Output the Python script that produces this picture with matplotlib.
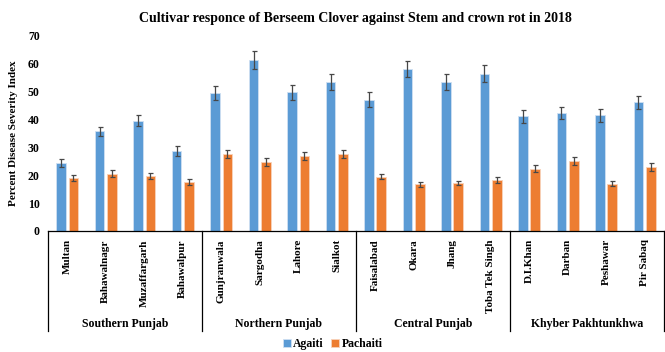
import numpy as np
import matplotlib
matplotlib.use("Agg")
import matplotlib.pyplot as plt
import matplotlib.transforms as mtransforms

plt.rcParams['font.family'] = ['Liberation Serif', 'DejaVu Serif']
plt.rcParams['font.weight'] = 'bold'

cities = ['Multan', 'Bahawalnagr', 'Muzaffargarh', 'Bahawalpur',
          'Gunjranwala', 'Sargodha', 'Lahore', 'Sialkot',
          'Faisalabad', 'Okara', 'Jhang', 'Toba Tek Singh',
          'D.I.Khan', 'Darban', 'Peshawar', 'Pir Sabaq']
regions = ['Southern Punjab', 'Northern Punjab', 'Central Punjab',
           'Khyber Pakhtunkhwa']
agaiti = [24.3, 35.7, 39.6, 28.7, 49.4, 61.4, 49.7, 53.5,
          47.1, 58.1, 53.5, 56.4, 41.1, 42.3, 41.5, 46.1]
agaiti_err = [1.4, 1.6, 2.1, 1.7, 2.5, 3.2, 2.6, 2.9,
              2.6, 3.0, 2.9, 3.0, 2.2, 2.2, 2.3, 2.5]
pachaiti = [19.0, 20.6, 19.7, 17.6, 27.6, 24.6, 27.0, 27.6,
            19.5, 16.7, 17.2, 18.2, 22.4, 25.2, 17.0, 23.0]
pachaiti_err = [1.0, 1.1, 1.0, 1.0, 1.4, 1.4, 1.5, 1.5,
                1.0, 0.8, 0.8, 1.0, 1.25, 1.4, 0.9, 1.4]

fig = plt.figure(figsize=(6.65, 3.52), dpi=100)
ax = fig.add_axes([0.0722, 0.344, 0.926, 0.554])

x = np.arange(len(cities))
w = 0.25
ekw = dict(ecolor='#474747', elinewidth=0.9, capsize=1.8, capthick=0.9)
ax.bar(x - 0.16, agaiti, w, yerr=agaiti_err, color='#5B9BD5',
       edgecolor='#cfe0f2', linewidth=0.6, label='Agaiti', error_kw=ekw)
ax.bar(x + 0.16, pachaiti, w, yerr=pachaiti_err, color='#ED7D31',
       edgecolor='#f8d3bb', linewidth=0.6, label='Pachaiti', error_kw=ekw)

ax.set_xlim(-0.5, len(cities) - 0.5)
ax.set_ylim(0, 70)
ax.set_yticks(range(0, 71, 10))
ax.set_xticks(x)
ax.set_xticklabels(cities, rotation=90, va='top', fontsize=8, fontweight='bold')
ax.tick_params(axis='both', length=0)
ax.tick_params(axis='y', pad=6, labelsize=8.5)
ax.tick_params(axis='x', pad=6)
for s in ['top', 'right', 'left']:
    ax.spines[s].set_visible(False)
ax.spines['bottom'].set_color('black')
ax.spines['bottom'].set_linewidth(0.9)

ax.set_ylabel('Percent Disease Severity Index', fontsize=8, fontweight='bold',
              labelpad=7)
ax.set_title('Cultivar responce of Berseem Clover against Stem and crown rot in 2018',
             fontsize=10, fontweight='bold', pad=10)

# region brackets below the category axis
trans = mtransforms.blended_transform_factory(ax.transData, ax.transAxes)
for b in [-0.5, 3.5, 7.5, 11.5, 15.5]:
    ax.plot([b, b], [0, -0.515], transform=trans, color='black',
            linewidth=0.9, clip_on=False)
for i, r in enumerate(regions):
    ax.text(i * 4 + 1.5, -0.477, r, transform=trans, ha='center', va='center',
            fontsize=8.5, fontweight='bold')

fig.legend(loc='lower center', bbox_to_anchor=(0.5, -0.025), ncol=2,
           frameon=False, fontsize=8.5, handlelength=0.7, handleheight=0.7,
           handletextpad=0.2, columnspacing=0.6)

fig.savefig('out.png', dpi=100)
